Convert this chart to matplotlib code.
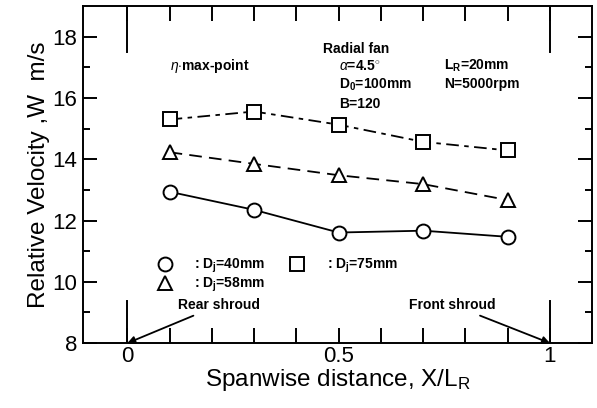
import matplotlib
matplotlib.use('Agg')
import matplotlib.pyplot as plt
from matplotlib.lines import Line2D
import numpy as np

plt.rcParams['font.family'] = ['Liberation Sans', 'DejaVu Sans']
plt.rcParams['mathtext.fontset'] = 'custom'
plt.rcParams['mathtext.rm'] = 'Liberation Sans'
plt.rcParams['mathtext.it'] = 'Liberation Sans:italic'

# Spanwise measuring stations, X/LR
x_pos = [0.1, 0.3, 0.5, 0.7, 0.9]

# Relative velocity W (m/s) for each inlet diameter Dj
w_40mm = [12.94, 12.35, 11.61, 11.67, 11.47]
w_58mm = [14.23, 13.85, 13.48, 13.19, 12.67]
w_75mm = [15.30, 15.56, 15.13, 14.57, 14.29]

labels = [r': $\mathregular{D_j}$=40mm', r': $\mathregular{D_j}$=58mm', r': $\mathregular{D_j}$=75mm']

fig = plt.figure(figsize=(5.97, 4.08), dpi=100)
ax = fig.add_axes([0.139, 0.159, 0.853, 0.826])

mk = dict(markerfacecolor='white', markeredgecolor='black', markeredgewidth=1.4, color='black', lw=1.3)
ax.plot(x_pos, w_40mm, marker='o', markersize=10, linestyle='-', **mk)
ax.plot(x_pos, w_58mm, marker='^', markersize=9.5, linestyle=(0, (7, 4)), **mk)
ax.plot(x_pos, w_75mm, marker='s', markersize=10, linestyle=(0, (7, 3, 2.5, 3)), **mk)

ax.set_xlim(-0.105, 1.1)
ax.set_ylim(8, 19)

ax.set_xticks([0, 0.5, 1])
ax.set_xticklabels(['0', '0.5', '1'])
ax.set_xticks([0.1, 0.2, 0.3, 0.4, 0.6, 0.7, 0.8, 0.9], minor=True)
ax.set_yticks([8, 10, 12, 14, 16, 18])
ax.set_yticks([9, 11, 13, 15, 17], minor=True)

ax.tick_params(axis='both', which='both', direction='in', top=True, right=True, width=1.4, labelsize=16)
ax.tick_params(axis='x', which='both', length=11, pad=2)
ax.tick_params(axis='y', which='major', length=10, pad=4)
ax.tick_params(axis='y', which='minor', length=5)
for s in ax.spines.values():
    s.set_linewidth(1.4)

# long marks at the shroud walls
trans = ax.get_xaxis_transform()
for xs in [0, 1]:
    ax.plot([xs, xs], [0, 0.125], transform=trans, color='black', lw=1.4)
    ax.plot([xs, xs], [0.865, 1], transform=trans, color='black', lw=1.4)

ax.set_xlabel(r'Spanwise distance, X/L$\mathregular{_R}$', fontsize=17.5, labelpad=0)
ax.set_ylabel('Relative Velocity ,W  m/s', fontsize=17.5, labelpad=2)

tk = dict(fontsize=10, fontweight='bold', va='center', ha='left')
ax.text(0.102, 17.03, r'$\eta$$\cdot$max-point', **tk)
ax.text(0.462, 17.61, 'Radial fan', **tk)
ax.text(0.5, 17.03, r'$\alpha$=4.5$^{\circ}$', **tk)
ax.text(0.5, 16.44, r'D$\mathregular{_0}$=100mm', **tk)
ax.text(0.5, 15.79, 'B=120', **tk)
ax.text(0.749, 17.06, r'L$\mathregular{_R}$=20mm', **tk)
ax.text(0.749, 16.47, 'N=5000rpm', **tk)

arr = dict(arrowstyle='-|>', color='black', lw=1.3, mutation_scale=11, shrinkA=2, shrinkB=0)
ax.annotate('Rear shroud', xy=(0, 8), xytext=(0.121, 9.25), fontsize=10, fontweight='bold',
            va='center', ha='left', arrowprops=arr)
ax.annotate('Front shroud', xy=(1, 8), xytext=(0.872, 9.25), fontsize=10, fontweight='bold',
            va='center', ha='right', arrowprops=arr)

handles = [
    Line2D([], [], marker='o', markersize=10, linestyle='none', markerfacecolor='white', markeredgecolor='black', markeredgewidth=1.4),
    Line2D([], [], marker='^', markersize=9.5, linestyle='none', markerfacecolor='white', markeredgecolor='black', markeredgewidth=1.4),
    Line2D([], [], marker='s', markersize=10, linestyle='none', markerfacecolor='white', markeredgecolor='black', markeredgewidth=1.4),
]
leg = ax.legend(handles, labels, ncol=2, frameon=False, loc='center left',
                bbox_to_anchor=(0.137, 0.2), handlelength=1.0, handletextpad=1.6,
                columnspacing=1.8, labelspacing=0.05, borderaxespad=0,
                prop={'size': 10, 'weight': 'bold'})

fig.savefig('out.png', dpi=100)
